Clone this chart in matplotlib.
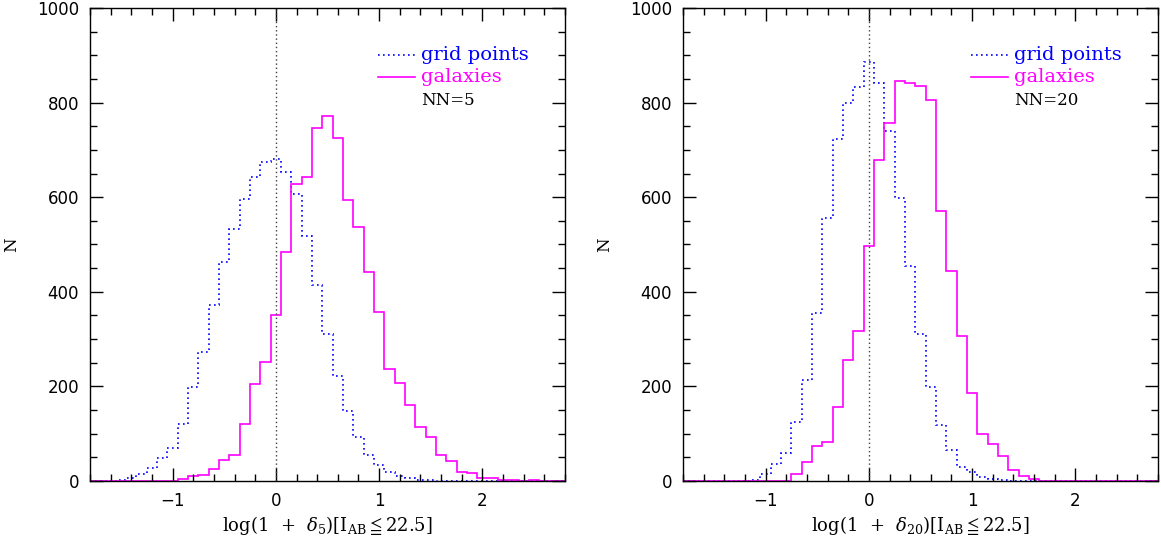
import numpy as np
import matplotlib
matplotlib.use("Agg")
import matplotlib.pyplot as plt
from matplotlib.ticker import MultipleLocator

# ---- data: histogram counts per bin (bin centres -1.8 ... 2.8, width 0.1) ----
bin_centers = np.round(np.arange(-1.8, 2.85, 0.1), 1)

# NN=5
grid_nn5 = [0, 0, 1, 2, 7, 15, 27, 48, 69, 120, 199, 272, 373, 464, 533, 597,
            643, 674, 681, 653, 607, 519, 414, 310, 221, 147, 94, 56, 33, 19,
            11, 6, 3, 2, 1, 0, 0, 0, 0, 0, 0, 0, 0, 0, 0, 0, 0]
gal_nn5 = [0, 0, 0, 0, 0, 0, 0, 0, 1, 4, 11, 13, 26, 44, 56, 120,
           206, 251, 351, 485, 627, 643, 746, 772, 726, 594, 538, 441, 357, 236,
           208, 160, 115, 94, 55, 42, 19, 16, 6, 7, 3, 2, 1, 2, 0, 0, 0]
# NN=20
grid_nn20 = [0, 0, 0, 0, 0, 0, 0, 2, 14, 36, 60, 124, 213, 356, 557, 724,
             800, 834, 886, 841, 740, 599, 454, 310, 199, 118, 66, 30, 20, 9,
             5, 2, 1, 0, 0, 0, 0, 0, 0, 0, 0, 0, 0, 0, 0, 0, 0]
gal_nn20 = [0, 0, 0, 0, 0, 0, 0, 0, 0, 0, 1, 15, 40, 75, 82, 156,
            256, 318, 497, 679, 757, 846, 841, 836, 805, 571, 443, 307, 187, 100,
            78, 53, 24, 10, 4, 1, 0, 0, 0, 0, 0, 0, 0, 0, 0, 0, 0]

panels = [
    {"grid": grid_nn5, "gal": gal_nn5, "nn": "NN=5", "sub": "5"},
    {"grid": grid_nn20, "gal": gal_nn20, "nn": "NN=20", "sub": "20"},
]
legend_labels = ["grid points", "galaxies"]

plt.rcParams["mathtext.fontset"] = "dejavuserif"
serif = ["DejaVu Serif", "DejaVu Sans"]

fig = plt.figure(figsize=(11.61, 5.45), dpi=100)
W, H = 1161, 545
ax_boxes = [(90, 8, 565, 481), (683, 8, 1158, 481)]

edges = np.append(bin_centers - 0.05, bin_centers[-1] + 0.05)

for (x0, y0, x1, y1), p in zip(ax_boxes, panels):
    ax = fig.add_axes([x0 / W, (H - y1) / H, (x1 - x0) / W, (y1 - y0) / H])
    ax.stairs(p["grid"], edges, color="#0000ff", lw=1.2,
              linestyle=(0, (1, 2)), baseline=None)
    ax.stairs(p["gal"], edges, color="#ff00ff", lw=1.2, baseline=None)
    ax.axvline(0, color="0.25", lw=1.0, linestyle=(0, (1, 2)))

    ax.set_xlim(-1.8, 2.8)
    ax.set_ylim(0, 1000)
    ax.xaxis.set_major_locator(MultipleLocator(1))
    ax.xaxis.set_minor_locator(MultipleLocator(0.2))
    ax.yaxis.set_major_locator(MultipleLocator(200))
    ax.yaxis.set_minor_locator(MultipleLocator(50))
    ax.tick_params(which="both", direction="in", top=True, right=True,
                   labelsize=12, width=1.0)
    ax.tick_params(which="major", length=9.5, pad=8)
    ax.tick_params(which="minor", length=5)
    for s in ax.spines.values():
        s.set_linewidth(1.0)

    # legend drawn in axes coordinates
    ax.plot([0.607, 0.684], [0.901, 0.901], transform=ax.transAxes,
            color="#0000ff", lw=1.2, linestyle=(0, (1, 2)))
    ax.plot([0.607, 0.684], [0.854, 0.854], transform=ax.transAxes,
            color="#ff00ff", lw=1.2)
    ax.text(0.697, 0.901, legend_labels[0], transform=ax.transAxes,
            color="#0000ff", fontsize=14, family=serif, va="center")
    ax.text(0.697, 0.854, legend_labels[1], transform=ax.transAxes,
            color="#ff00ff", fontsize=14, family=serif, va="center")
    ax.text(0.697, 0.805, p["nn"], transform=ax.transAxes,
            color="black", fontsize=12, family=serif, va="center")

    ax.set_xlabel("log(1  +  $\\delta_{%s}$)[I$_{\\rm AB}\\leqq$22.5]" % p["sub"],
                  fontsize=13, family=serif, labelpad=3)
    ax.set_ylabel("N", fontsize=12, family=serif, labelpad=12)

fig.savefig("out.png", dpi=100)
